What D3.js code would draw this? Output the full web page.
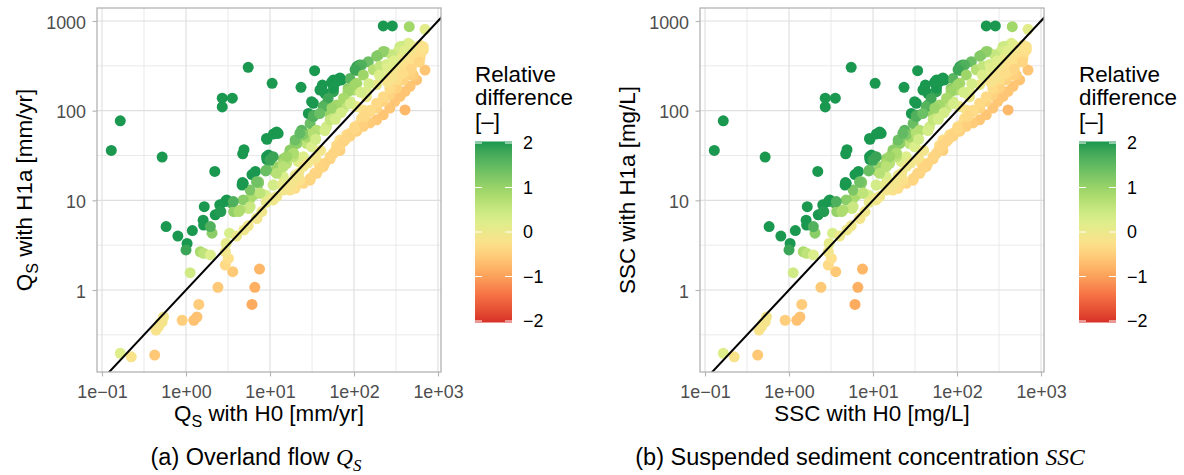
<!DOCTYPE html>
<html>
<head>
<meta charset="utf-8">
<script src="https://cdn.jsdelivr.net/npm/d3@7"></script>
<style>
  body { margin: 0; background: #fff; }
  svg { display: block; font-family: "Liberation Sans", Arial, Helvetica, sans-serif; }
</style>
</head>
<body>
<svg id="fig" width="1184" height="475"></svg>
<script>
// valeurs (H0 en x, H1a en y) — identiques pour Qs et SSC
const h0 = [
  0.165, 0.129, 0.52, 5.5, 10.6, 2.7, 3.56, 2.7, 4.9, 4.73,
  2.2, 9.2, 11, 9.6, 9.2, 6.7, 6.1, 4.7, 8.9, 223,
  286, 455, 700, 34, 23.4, 42, 41, 65, 57, 54,
  108, 116, 148, 195, 233, 353, 443, 611, 668, 700,
  557, 405, 0.165, 0.223, 0.424, 0.44, 0.47, 0.52, 0.54, 0.49,
  0.9, 1.24, 1.35, 1.42, 2.4, 6.1, 6.6, 7.5, 3.6, 2.94,
  3.2, 2.94, 1.12, 1.48, 1.62, 1.95, 3.3, 4.9, 7.0, 0.58,
  0.80, 1.03, 1.0, 1.19, 1.65, 1.6, 1.62, 2.04, 1.95, 2.23,
  2.6, 2.52, 2.94, 3.5, 4.65, 3.7, 4.24, 5.6, 7.3, 6.4,
  5.8, 7.7, 8.8, 11, 10.6, 32.8, 28.6, 45, 49, 62,
  75, 90, 108, 129, 82, 68, 62, 57, 68, 118,
  135, 37.6, 19.9, 17.3, 14.4, 10.9, 6.9, 30, 22.7, 19.9,
  17.3, 14.4, 11.5, 9.1, 7.3, 5.8, 4.8, 5.8, 7.6, 12,
  15.8, 19, 27.3, 34.3, 31.3, 24.9, 21.7, 14.4, 10.9, 4.8,
  9.1, 11.5, 12.5, 39.3, 45, 31.3, 62, 71, 56.9, 49.2,
  89.5, 108, 123, 85, 98, 71, 57, 59.6, 43, 32.8,
  30, 35.9, 23.8, 27.4, 12, 108, 141, 89.5, 102, 123,
  141, 371, 465, 557, 335, 280, 223, 186, 112, 103,
  68, 62, 57, 102, 85, 75, 62, 54.5, 129, 170,
  204, 245, 307, 371, 442, 141, 186, 233, 293, 371,
  465, 580, 611, 508, 465, 405, 353, 307, 267, 223,
  186, 155, 129, 108, 90, 75, 322, 267, 223, 186,
  155, 465, 385, 43, 36, 30, 25, 52, 9.1, 10,
  10.9, 6.9, 3.05, 3.66, 2.54, 4.4, 12, 14.4, 19, 20.8,
  17.3, 580, 668, 490, 405, 322, 267, 223, 186, 155,
  135, 102, 78, 68, 59.5, 52, 45, 39, 34, 30,
  22.7, 19, 19.9, 24.9, 32.8, 19, 15.8, 14.4, 47, 52,
  32.8, 39, 22.7, 3.0, 4.0, 5.5, 8.0, 9.0, 12, 14,
  16, 20, 25, 28, 35, 40, 18, 22, 500, 550,
  620, 650, 400, 450, 520, 300, 350, 250, 280, 420,
  600, 480, 380, 150, 200, 250, 300, 400, 120, 90,
  70, 60, 45, 35
];
const h1a = [
  77, 36, 30.4, 304, 202, 138, 138, 110, 36.7, 33,
  21, 48, 55, 32, 28.5, 21, 19.4, 15.8, 21.3, 880,
  880, 864, 808, 279, 182, 193, 178, 224, 220, 207,
  310, 323, 352, 416, 454, 517, 563, 538, 475, 284,
  220, 102, 0.197, 0.18, 0.188, 0.358, 0.39, 0.44, 0.50, 0.425,
  0.46, 0.46, 0.50, 0.69, 1.07, 0.69, 1.07, 1.71, 1.6, 1.9,
  2.25, 2.67, 1.56, 2.67, 2.57, 2.46, 4.3, 4.67, 6.3, 5.1,
  4.0, 3.3, 2.8, 4.6, 8.5, 6.0, 5.3, 4.3, 5.1, 6.9,
  7.5, 8.9, 9.7, 9.3, 14.8, 7.5, 7.5, 8.1, 15.5, 11.5,
  10.5, 12, 11.5, 14.8, 10.5, 121, 93, 116, 97, 111,
  106, 126, 111, 102, 54, 47, 41, 33.5, 36, 72,
  79, 26.3, 13.6, 13, 13, 10.1, 6.3, 56, 47, 43,
  35, 29, 20.9, 21.8, 16.1, 13, 10.1, 8.5, 12, 23.7,
  25.9, 33.5, 43, 49, 39.6, 30.7, 27, 18.4, 14.8, 15.5,
  49, 55.7, 55.7, 170, 156, 126, 211, 220, 163, 137,
  228, 281, 323, 177, 170, 111, 106, 89, 111, 89,
  72, 60.5, 60.5, 51, 58, 202, 143, 56, 66, 82,
  93, 523, 545, 500, 458, 420, 458, 405, 298, 286,
  232, 214, 179, 194, 164, 138, 116, 107, 250, 286,
  313, 328, 355, 388, 420, 164, 194, 232, 275, 328,
  388, 458, 388, 250, 187, 164, 144, 127, 107, 90,
  79, 73, 67, 59, 52, 45.5, 179, 150, 127, 107,
  98, 250, 220, 23.7, 20, 16.8, 15.5, 29, 30.7, 28,
  30.7, 16.1, 10.1, 9.7, 7.5, 7.8, 20, 25.9, 30.7, 43,
  36.4, 416, 517, 323, 274, 220, 177, 143, 121, 101,
  86, 63, 47, 41, 35, 30.7, 25.9, 22.7, 20, 17.5,
  16.8, 14.2, 47, 54, 56, 33.5, 30.7, 23.7, 66, 79,
  86, 93, 56, 3.3, 4.0, 5.2, 7.5, 9.5, 11, 15,
  14, 19, 24, 26, 30, 36, 16, 20, 420, 480,
  430, 500, 350, 330, 370, 250, 300, 210, 230, 300,
  350, 290, 260, 200, 250, 300, 360, 470, 160, 120,
  95, 80, 60, 48
];

const xTicks = [0.1, 1, 10, 100, 1000];
const xTickLabels = ['1e\u221201', '1e+00', '1e+01', '1e+02', '1e+03'];
const yTicks = [1, 10, 100, 1000];
const yTickLabels = ['1', '10', '100', '1000'];
const minorTicks = [Math.pow(10, -0.5), Math.pow(10, 0.5), Math.pow(10, 1.5), Math.pow(10, 2.5)];
const legendBreaks = [2, 1, 0, -1, -2];
const legendLabels = ['2', '1', '0', '\u22121', '\u22122'];
const PALETTE = ['#d73027', '#f46d43', '#fdae61', '#fee08b', '#d9ef8b', '#a6d96a', '#66bd63', '#1a9850'];

const svg = d3.select('#fig');
const TOP = 8, W = 344, H = 364;
const FS_TICK = 17.9, FS_TITLE = 22.4, FS_CAP = 23.5;
const SERIF = '"Liberation Serif", "DejaVu Serif", serif';

// échelle de couleur : différence relative (H1a - H0) / H0, bornée à [-2, 2]
const colour = d3.scaleLinear()
  .domain(PALETTE.map((_, i) => -2 + 4 * i / (PALETTE.length - 1)))
  .range(PALETTE)
  .interpolate(d3.interpolateLab)
  .clamp(true);

const points = h0.map((v, i) => ({ x: v, y: h1a[i], rel: (h1a[i] - v) / v }));

const defs = svg.append('defs');
const grad = defs.append('linearGradient').attr('id', 'cbar')
  .attr('x1', 0).attr('y1', 1).attr('x2', 0).attr('y2', 0);
d3.range(0, 1.0001, 0.05).forEach(t => {
  grad.append('stop').attr('offset', t).attr('stop-color', colour(-2 + 4 * t));
});

function rich(textSel, parts, fs) {
  let shifted = 0;
  parts.forEach(p => {
    const ts = textSel.append('tspan').text(p.t);
    const want = p.sub ? fs * 0.25 : 0;
    if (want !== shifted) { ts.attr('dy', want - shifted); shifted = want; }
    if (p.sub) ts.attr('font-size', fs * 0.72);
    if (p.math) ts.attr('font-family', SERIF).attr('font-style', 'italic');
  });
}

const panels = [
  {
    left: 97, legendX: 475, capX: 256,
    xTitle: [{ t: 'Q' }, { t: 'S', sub: true }, { t: ' with H0 [mm/yr]' }],
    yTitle: [{ t: 'Q' }, { t: 'S', sub: true }, { t: ' with H1a [mm/yr]' }],
    caption: [{ t: '(a) Overland flow ' }, { t: 'Q', math: true }, { t: 'S', math: true, sub: true }]
  },
  {
    left: 700, legendX: 1079, capX: 860,
    xTitle: [{ t: 'SSC with H0 [mg/L]' }],
    yTitle: [{ t: 'SSC with H1a [mg/L]' }],
    caption: [{ t: '(b) Suspended sediment concentration ' }, { t: 'SSC', math: true }]
  }
];

panels.forEach((p, k) => {
  const x = d3.scaleLog().domain([Math.pow(10, -1.0595), Math.pow(10, 3.0357)]).range([p.left, p.left + W]);
  const y = d3.scaleLog().domain([Math.pow(10, -0.9145), Math.pow(10, 3.145)]).range([TOP + H, TOP]);
  const g = svg.append('g');

  // grille
  const grid = g.append('g');
  grid.selectAll('.mx').data(minorTicks).enter().append('line')
    .attr('x1', d => x(d)).attr('x2', d => x(d)).attr('y1', TOP).attr('y2', TOP + H)
    .attr('stroke', '#e4e4e4').attr('stroke-width', 0.8);
  grid.selectAll('.my').data(minorTicks).enter().append('line')
    .attr('y1', d => y(d)).attr('y2', d => y(d)).attr('x1', p.left).attr('x2', p.left + W)
    .attr('stroke', '#e4e4e4').attr('stroke-width', 0.8);
  grid.selectAll('.gx').data(xTicks).enter().append('line')
    .attr('x1', d => x(d)).attr('x2', d => x(d)).attr('y1', TOP).attr('y2', TOP + H)
    .attr('stroke', '#dedede').attr('stroke-width', 1.1);
  grid.selectAll('.gy').data(yTicks).enter().append('line')
    .attr('y1', d => y(d)).attr('y2', d => y(d)).attr('x1', p.left).attr('x2', p.left + W)
    .attr('stroke', '#dedede').attr('stroke-width', 1.1);

  // points + droite 1:1, coupés au panneau
  defs.append('clipPath').attr('id', 'clip' + k).append('rect')
    .attr('x', p.left).attr('y', TOP).attr('width', W).attr('height', H);
  const plot = g.append('g').attr('clip-path', `url(#clip${k})`);
  plot.selectAll('circle').data(points).enter().append('circle')
    .attr('cx', d => x(d.x)).attr('cy', d => y(d.y)).attr('r', 5.5)
    .attr('fill', d => colour(d.rel));
  plot.append('line')
    .attr('x1', x(0.01)).attr('y1', y(0.01)).attr('x2', x(10000)).attr('y2', y(10000))
    .attr('stroke', '#000').attr('stroke-width', 2);

  g.append('rect').attr('x', p.left).attr('y', TOP).attr('width', W).attr('height', H)
    .attr('fill', 'none').attr('stroke', '#b3b3b3').attr('stroke-width', 1.3);

  // axes
  const ax = g.append('g').attr('transform', `translate(0,${TOP + H})`)
    .call(d3.axisBottom(x).tickValues(xTicks).tickFormat((d, i) => xTickLabels[i]).tickSize(4.5).tickPadding(9));
  const ay = g.append('g').attr('transform', `translate(${p.left},0)`)
    .call(d3.axisLeft(y).tickValues(yTicks).tickFormat((d, i) => yTickLabels[i]).tickSize(4.5).tickPadding(6.5));
  [ax, ay].forEach(a => {
    a.select('.domain').remove();
    a.selectAll('line').attr('stroke', '#b3b3b3').attr('stroke-width', 1.1);
    a.selectAll('text').attr('fill', '#4d4d4d').attr('font-size', FS_TICK)
      .attr('font-family', '"Liberation Sans", Arial, sans-serif');
  });
  ay.selectAll('text').attr('dy', '0.4em');

  // titres d'axes
  const xt = g.append('text').attr('x', p.left + W / 2).attr('y', 421)
    .attr('text-anchor', 'middle').attr('font-size', FS_TITLE).attr('fill', '#000');
  rich(xt, p.xTitle, FS_TITLE);
  const yt = g.append('text').attr('transform', `translate(${p.left - 65},${TOP + H / 2}) rotate(-90)`)
    .attr('text-anchor', 'middle').attr('font-size', FS_TITLE).attr('fill', '#000');
  rich(yt, p.yTitle, FS_TITLE);

  // légende
  const lg = g.append('g');
  ['Relative', 'difference', '[\u2013]'].forEach((s, i) => {
    lg.append('text').attr('x', p.legendX).attr('y', 81.5 + i * 23.5)
      .attr('font-size', FS_TITLE).attr('fill', '#000').text(s);
  });
  const ly = d3.scaleLinear().domain([2, -2]).range([143, 321]);
  lg.append('rect').attr('x', p.legendX).attr('y', ly(2) - 1.5).attr('width', 37)
    .attr('height', ly(-2) - ly(2) + 3).attr('fill', 'url(#cbar)');
  legendBreaks.forEach((b, i) => {
    lg.append('line').attr('x1', p.legendX).attr('x2', p.legendX + 7)
      .attr('y1', ly(b)).attr('y2', ly(b)).attr('stroke', '#fff').attr('stroke-width', 1);
    lg.append('line').attr('x1', p.legendX + 30).attr('x2', p.legendX + 37)
      .attr('y1', ly(b)).attr('y2', ly(b)).attr('stroke', '#fff').attr('stroke-width', 1);
    lg.append('text').attr('x', p.legendX + 48).attr('y', ly(b)).attr('dy', '0.36em')
      .attr('font-size', FS_TICK).attr('fill', '#000').text(legendLabels[i]);
  });

  // légende de sous-figure
  const cap = g.append('text').attr('x', p.capX).attr('y', 465)
    .attr('text-anchor', 'middle').attr('font-size', FS_CAP).attr('fill', '#000');
  rich(cap, p.caption, FS_CAP);
});
</script>
</body>
</html>
